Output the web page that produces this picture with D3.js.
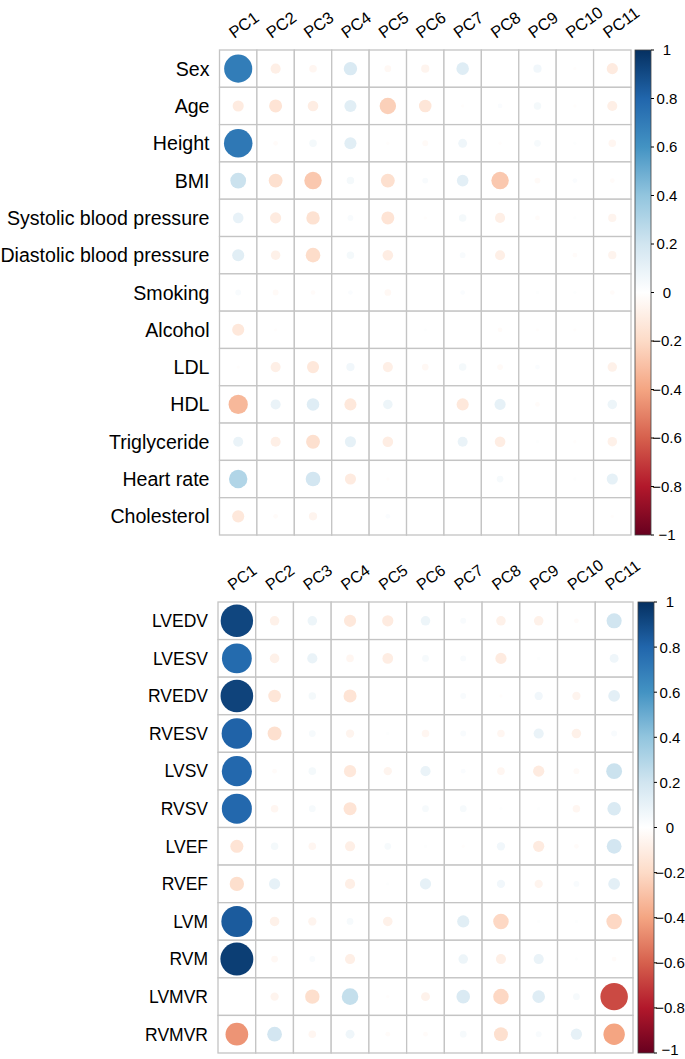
<!DOCTYPE html>
<html>
<head>
<meta charset="utf-8">
<style>
body { margin: 0; background: #fff; }
text { font-family: "Liberation Sans", Arial, Helvetica, sans-serif; fill: #000; }
.cell { fill: #fff; stroke: #c4c4c4; stroke-width: 1.3; }
</style>
<title>Correlation plot</title>
</head>
<body>
<script src="https://d3js.org/d3.v7.min.js"></script>
<script>

// column labels (principal components)
var pcLabels = ["PC1", "PC2", "PC3", "PC4", "PC5", "PC6", "PC7", "PC8", "PC9", "PC10", "PC11"];

// top panel: clinical variables
var topRows = ["Sex", "Age", "Height", "BMI", "Systolic blood pressure", "Diastolic blood pressure",
               "Smoking", "Alcohol", "LDL", "HDL", "Triglyceride", "Heart rate", "Cholesterol"];
var topValues = [
  [ 0.70, -0.09, -0.05,  0.16, -0.04, -0.06,  0.14,  0.00,  0.06, -0.01, -0.11],
  [-0.11, -0.15, -0.10,  0.13, -0.24, -0.14, -0.01,  0.02,  0.05, -0.01, -0.09],
  [ 0.72, -0.02,  0.05,  0.13, -0.01, -0.03,  0.07, -0.01,  0.04,  0.01, -0.05],
  [ 0.22, -0.17, -0.27,  0.05, -0.17,  0.03,  0.12, -0.27, -0.03,  0.02, -0.02],
  [ 0.10, -0.11, -0.16,  0.03, -0.15, -0.01,  0.05, -0.09, -0.02,  0.01, -0.06],
  [ 0.13, -0.08, -0.19,  0.05, -0.10,  0.00,  0.03, -0.09,  0.00, -0.02, -0.06],
  [ 0.03, -0.03, -0.02,  0.02, -0.04,  0.00,  0.02,  0.00,  0.01,  0.01, -0.02],
  [-0.13, -0.01,  0.00,  0.00,  0.00,  0.01,  0.00, -0.02, -0.01, -0.01,  0.00],
  [-0.01, -0.09, -0.13,  0.06, -0.09, -0.04,  0.05, -0.03,  0.02,  0.00, -0.08],
  [-0.33,  0.09,  0.14, -0.13,  0.08,  0.00, -0.13,  0.11, -0.02,  0.00,  0.08],
  [ 0.09, -0.09, -0.17,  0.11, -0.10,  0.00,  0.09, -0.10,  0.01, -0.01, -0.08],
  [ 0.30,  0.00,  0.19, -0.11, -0.01,  0.00,  0.00,  0.04,  0.00,  0.01,  0.11],
  [-0.13, -0.02, -0.06,  0.00,  0.02,  0.00,  0.00,  0.00,  0.00,  0.00, -0.01]
];

// bottom panel: cardiac measures
var bottomRows = ["LVEDV", "LVESV", "RVEDV", "RVESV", "LVSV", "RVSV",
                  "LVEF", "RVEF", "LVM", "RVM", "LVMVR", "RVMVR"];
var bottomValues = [
  [ 0.92, -0.08,  0.08, -0.13, -0.11,  0.08,  0.03, -0.08, -0.08, -0.02,  0.20],
  [ 0.78, -0.08,  0.09, -0.05, -0.10,  0.04,  0.03, -0.11,  0.01,  0.00,  0.07],
  [ 0.93, -0.14,  0.05, -0.15,  0.00,  0.00,  0.03, -0.01,  0.06, -0.06,  0.12],
  [ 0.81, -0.17,  0.04, -0.06,  0.01, -0.05,  0.03, -0.05,  0.09, -0.08,  0.03],
  [ 0.79, -0.02,  0.05, -0.13, -0.06,  0.09,  0.02, -0.05, -0.11, -0.03,  0.22],
  [ 0.79, -0.05,  0.04, -0.15,  0.00,  0.04,  0.04,  0.01,  0.01, -0.05,  0.16],
  [-0.15,  0.05, -0.05, -0.09,  0.04,  0.01, -0.01,  0.06, -0.11, -0.02,  0.19],
  [-0.18,  0.11,  0.00, -0.09,  0.01,  0.11,  0.00,  0.06, -0.06,  0.03,  0.12],
  [ 0.84, -0.08, -0.06,  0.04, -0.08,  0.00,  0.13, -0.21,  0.01,  0.01, -0.21],
  [ 0.95, -0.04,  0.03, -0.09,  0.00,  0.00,  0.08, -0.09,  0.09,  0.01, -0.02],
  [ 0.00, -0.06, -0.18,  0.24, -0.01, -0.07,  0.16, -0.21,  0.14,  0.04, -0.66],
  [-0.45,  0.19, -0.05,  0.07, -0.02, -0.02,  0.04, -0.17,  0.03,  0.11, -0.40]
];

// colour legend ticks
var legendTicks = [-1, -0.8, -0.6, -0.4, -0.2, 0, 0.2, 0.4, 0.6, 0.8, 1];

// corrplot's red-blue palette
var palette = ["#67001F", "#B2182B", "#D6604D", "#F4A582", "#FDDBC7", "#FFFFFF",
               "#D1E5F0", "#92C5DE", "#4393C3", "#2166AC", "#053061"];
var color = d3.scaleLinear()
    .domain(d3.range(palette.length).map(function(i) { return -1 + 2 * i / (palette.length - 1); }))
    .range(palette)
    .interpolate(d3.interpolateRgb);

var svg = d3.select("body").append("svg")
    .attr("width", 685)
    .attr("height", 1059);

var defs = svg.append("defs");
var grad = defs.append("linearGradient")
    .attr("id", "legendGrad")
    .attr("x1", 0).attr("y1", 1).attr("x2", 0).attr("y2", 0);
d3.range(0, 1.0001, 0.05).forEach(function(t) {
  grad.append("stop")
      .attr("offset", t)
      .attr("stop-color", color(-1 + 2 * t));
});

function drawPanel(cfg) {
  var g = svg.append("g");

  var x = d3.scaleBand().domain(pcLabels).range([cfg.left, cfg.right]);
  var y = d3.scaleBand().domain(cfg.rows).range([cfg.top, cfg.bottom]);
  var r = d3.scaleSqrt().domain([0, 1]).range([0, 0.45 * Math.min(x.bandwidth(), y.bandwidth())]);

  var cells = [];
  cfg.rows.forEach(function(row, i) {
    pcLabels.forEach(function(pc, j) {
      cells.push({row: row, pc: pc, v: cfg.values[i][j]});
    });
  });

  // grid cells
  g.selectAll(".cell")
      .data(cells)
    .enter().append("rect")
      .attr("class", "cell")
      .attr("x", function(d) { return x(d.pc); })
      .attr("y", function(d) { return y(d.row); })
      .attr("width", x.bandwidth())
      .attr("height", y.bandwidth());

  // circles
  g.selectAll(".dot")
      .data(cells.filter(function(d) { return d.v !== 0; }))
    .enter().append("circle")
      .attr("class", "dot")
      .attr("cx", function(d) { return x(d.pc) + x.bandwidth() / 2; })
      .attr("cy", function(d) { return y(d.row) + y.bandwidth() / 2; })
      .attr("r", function(d) { return r(Math.abs(d.v)); })
      .attr("fill", function(d) { return color(d.v); });

  // row labels
  g.selectAll(".rowlab")
      .data(cfg.rows)
    .enter().append("text")
      .attr("x", cfg.left - 10)
      .attr("y", function(d) { return y(d) + y.bandwidth() / 2; })
      .attr("dy", "0.36em")
      .attr("text-anchor", "end")
      .style("font-size", cfg.rowFont + "px")
      .text(function(d) { return d; });

  // column labels, rotated
  g.selectAll(".collab")
      .data(pcLabels)
    .enter().append("text")
      .attr("transform", function(d) {
        return "translate(" + (x(d) + x.bandwidth() / 2 - 4) + "," + (cfg.top - 11) + ") rotate(-36)";
      })
      .attr("text-anchor", "start")
      .style("font-size", cfg.colFont + "px")
      .text(function(d) { return d; });

  // colour legend
  var ly = d3.scaleLinear().domain([-1, 1]).range([cfg.bottom, cfg.top]);
  g.append("rect")
      .attr("x", cfg.barX)
      .attr("y", cfg.top)
      .attr("width", cfg.barW)
      .attr("height", cfg.bottom - cfg.top)
      .attr("fill", "url(#legendGrad)")
      .attr("stroke", "#444")
      .attr("stroke-width", 0.8);

  g.selectAll(".ltick")
      .data(legendTicks)
    .enter().append("line")
      .attr("x1", cfg.barX + cfg.barW)
      .attr("x2", cfg.barX + cfg.barW + 3)
      .attr("y1", function(d) { return ly(d); })
      .attr("y2", function(d) { return ly(d); })
      .attr("stroke", "#000")
      .attr("stroke-width", 1);

  g.selectAll(".llab")
      .data(legendTicks)
    .enter().append("text")
      .attr("x", cfg.barX + cfg.barW + 16)
      .attr("y", function(d) { return Math.min(ly(d), 1050); })
      .attr("dy", "0.36em")
      .attr("text-anchor", "middle")
      .style("font-size", "15px")
      .text(function(d) { return d3.format("")(d); });
}

drawPanel({
  rows: topRows, values: topValues,
  left: 219.5, right: 631, top: 50, bottom: 535,
  rowFont: 19.6, colFont: 16.5,
  barX: 635, barW: 16
});

drawPanel({
  rows: bottomRows, values: bottomValues,
  left: 218, right: 633, top: 602, bottom: 1053,
  rowFont: 17.5, colFont: 16,
  barX: 638, barW: 16
});

</script>
</body>
</html>
